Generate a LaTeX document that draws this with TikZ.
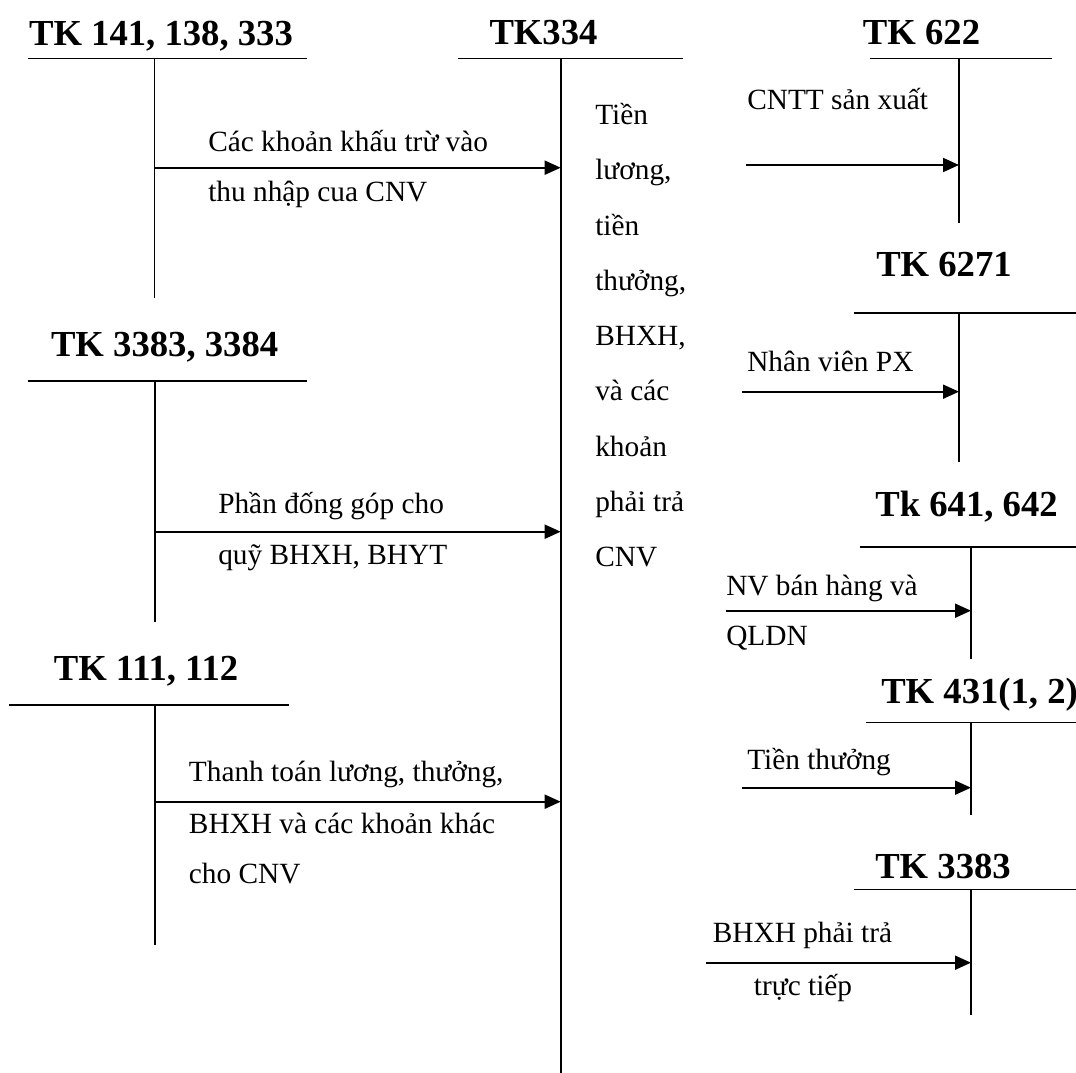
\documentclass[tikz,border=0pt]{standalone}
\usepackage{fontspec}
\setmainfont{Liberation Serif}
\usetikzlibrary{arrows.meta}
\begin{document}
\begin{tikzpicture}[x=0.75pt,y=-0.75pt,
  acc/.style={line width=1.4pt},
  flow/.style={line width=1.4pt,-{Triangle[length=12pt,width=10.5pt]}},
  head/.style={font=\fontsize{27.5}{32}\selectfont\bfseries, inner sep=0pt, anchor=base},
  lbl/.style={font=\fontsize{22}{26}\selectfont, inner sep=0pt, anchor=base west}]
\useasboundingbox (0,0) rectangle (1076,1073);

% ---------- TK 334 (centre) ----------
\node[head] (h334) at (543.5,45) {TK334};
\coordinate (l334a) at (458,58.5);
\coordinate (l334b) at (683,58.5);
\coordinate (v334a) at (560.7,58.5);
\coordinate (v334b) at (560.7,1073);
\draw[acc] (l334a) -- (l334b);
\draw[acc] (v334a) -- (v334b);
\foreach \t [count=\i] in {Tiền,{lương,},tiền,{thưởng,},{BHXH,},và các,khoản,phải trả,CNV}
  \node[lbl] (col\i) at (595,{124.5+55.3*(\i-1)}) {\t};

% ---------- TK 141, 138, 333 ----------
\node[head] (h141) at (161,45.5) {TK 141, 138, 333};
\coordinate (l141a) at (27.5,58.5);
\coordinate (l141b) at (307,58.5);
\coordinate (v141a) at (154.5,58.5);
\coordinate (v141b) at (154.5,298);
\draw[acc] (l141a) -- (l141b);
\draw[acc] (v141a) -- (v141b);
\coordinate (s141) at (154.5,167.7);
\draw[flow] (s141) -- (s141 -| v334a);
\node[lbl] (t141a) at (208,151.7) {Các khoản khấu trừ vào};
\node[lbl] (t141b) at (208,201.7) {thu nhập cua CNV};

% ---------- TK 3383, 3384 ----------
\node[head] (h3384) at (164.6,356.7) {TK 3383, 3384};
\coordinate (l3384a) at (27.7,380.7);
\coordinate (l3384b) at (307,380.7);
\coordinate (v3384a) at (154.6,380.7);
\coordinate (v3384b) at (154.6,621.7);
\draw[acc] (l3384a) -- (l3384b);
\draw[acc] (v3384a) -- (v3384b);
\coordinate (s3384) at (154.6,531.7);
\draw[flow] (s3384) -- (s3384 -| v334a);
\node[lbl] (t3384a) at (218,513.3) {Phần đống góp cho};
\node[lbl] (t3384b) at (218,565) {quỹ BHXH, BHYT};

% ---------- TK 111, 112 ----------
\node[head] (h111) at (146,680) {TK 111, 112};
\coordinate (l111a) at (9,704.7);
\coordinate (l111b) at (289,704.7);
\coordinate (v111a) at (154.6,704.7);
\coordinate (v111b) at (154.6,945);
\draw[acc] (l111a) -- (l111b);
\draw[acc] (v111a) -- (v111b);
\coordinate (s111) at (154.6,801.7);
\draw[flow] (s111) -- (s111 -| v334a);
\node[lbl] (t111a) at (188.7,781.7) {Thanh toán lương, thưởng,};
\node[lbl] (t111b) at (188.7,833.3) {BHXH và các khoản khác};
\node[lbl] (t111c) at (188.7,883.3) {cho CNV};

% ---------- TK 622 ----------
\node[head] (h622) at (921.5,45) {TK 622};
\coordinate (l622a) at (870,58.5);
\coordinate (l622b) at (1052,58.5);
\coordinate (v622a) at (959,58.5);
\coordinate (v622b) at (959,222.7);
\draw[acc] (l622a) -- (l622b);
\draw[acc] (v622a) -- (v622b);
\coordinate (s622) at (746,165);
\draw[flow] (s622) -- (s622 -| v622a);
\node[lbl] (t622) at (747,110) {CNTT sản xuất};

% ---------- TK 6271 ----------
\node[head] (h6271) at (944,276.7) {TK 6271};
\coordinate (l6271a) at (854,312.7);
\coordinate (l6271b) at (1076,312.7);
\coordinate (v6271a) at (959,312.7);
\coordinate (v6271b) at (959,461.7);
\draw[acc] (l6271a) -- (l6271b);
\draw[acc] (v6271a) -- (v6271b);
\coordinate (s6271) at (742,391.7);
\draw[flow] (s6271) -- (s6271 -| v6271a);
\node[lbl] (t6271) at (747,371.7) {Nhân viên PX};

% ---------- Tk 641, 642 ----------
\node[head] (h641) at (966.5,516.7) {Tk 641, 642};
\coordinate (l641a) at (860,547.3);
\coordinate (l641b) at (1076,547.3);
\coordinate (v641a) at (971,547.3);
\coordinate (v641b) at (971,658.5);
\draw[acc] (l641a) -- (l641b);
\draw[acc] (v641a) -- (v641b);
\coordinate (s641) at (726,610.7);
\draw[flow] (s641) -- (s641 -| v641a);
\node[lbl] (t641a) at (726,595) {NV bán hàng và};
\node[lbl] (t641b) at (726,645) {QLDN};

% ---------- TK 431(1, 2) ----------
\node[head,anchor=base west] (h431) at (881,703) {TK 431(1, 2)};
\coordinate (l431a) at (866,722.5);
\coordinate (l431b) at (1076,722.5);
\coordinate (v431a) at (971,722.5);
\coordinate (v431b) at (971,815);
\draw[acc] (l431a) -- (l431b);
\draw[acc] (v431a) -- (v431b);
\coordinate (s431) at (742,787.7);
\draw[flow] (s431) -- (s431 -| v431a);
\node[lbl] (t431) at (747,769.3) {Tiền thưởng};

% ---------- TK 3383 ----------
\node[head] (h3383) at (943,878.3) {TK 3383};
\coordinate (l3383a) at (854,889.5);
\coordinate (l3383b) at (1076,889.5);
\coordinate (v3383a) at (971,889.5);
\coordinate (v3383b) at (971,1015);
\draw[acc] (l3383a) -- (l3383b);
\draw[acc] (v3383a) -- (v3383b);
\coordinate (s3383) at (706,962.7);
\draw[flow] (s3383) -- (s3383 -| v3383a);
\node[lbl] (t3383a) at (712.6,942.7) {BHXH phải trả};
\node[lbl] (t3383b) at (753.7,995) {trực tiếp};
\end{tikzpicture}
\end{document}
